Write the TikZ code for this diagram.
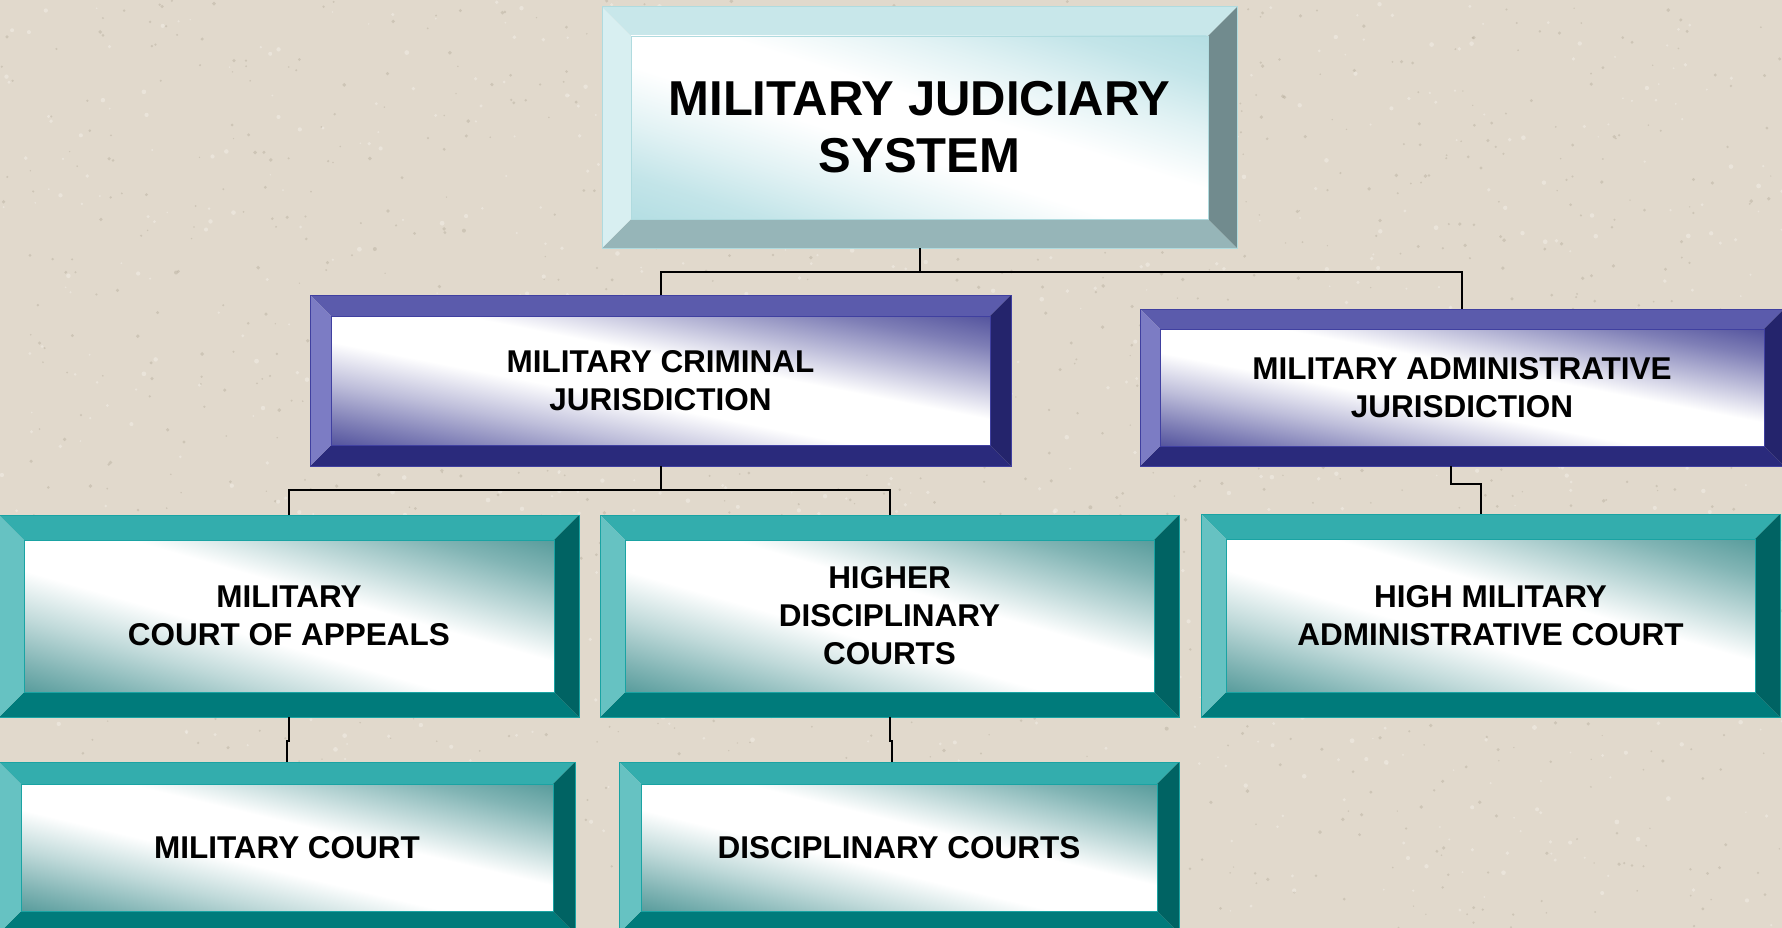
\documentclass[tikz,border=0pt]{standalone}
\usepackage{fontspec}
\setmainfont{Liberation Sans}
\usetikzlibrary{calc}
\definecolor{bgc}{RGB}{225,217,204}
\definecolor{bgd}{RGB}{170,160,142}
\definecolor{bgl}{RGB}{240,236,228}
% top box scheme
\definecolor{jaT}{RGB}{200,231,234}
\definecolor{jaL}{RGB}{216,239,241}
\definecolor{jaR}{RGB}{113,139,142}
\definecolor{jaB}{RGB}{150,181,184}
\definecolor{jaE}{RGB}{176,219,223}
\definecolor{jaC}{RGB}{180,222,227}
% blue scheme
\definecolor{blT}{RGB}{91,91,172}
\definecolor{blL}{RGB}{124,124,196}
\definecolor{blR}{RGB}{36,36,108}
\definecolor{blB}{RGB}{42,42,124}
\definecolor{blE}{RGB}{64,64,160}
\definecolor{blC}{RGB}{84,84,158}
% teal scheme
\definecolor{tlT}{RGB}{51,173,173}
\definecolor{tlL}{RGB}{102,194,194}
\definecolor{tlR}{RGB}{0,99,99}
\definecolor{tlB}{RGB}{0,123,123}
\definecolor{tlE}{RGB}{26,163,163}
\definecolor{tlC}{RGB}{88,156,156}
% visible range is 25bp (bottom-left corner) .. 75bp (top-right corner)
\pgfdeclarehorizontalshading{jaS}{100bp}{color(0bp)=(jaC); color(25bp)=(jaC); color(31bp)=(jaC!80!white); color(38bp)=(jaC!40!white); color(46bp)=(white); color(54bp)=(white); color(62bp)=(jaC!40!white); color(69bp)=(jaC!80!white); color(75bp)=(jaC); color(100bp)=(jaC)}
\pgfdeclarehorizontalshading{blS}{100bp}{color(0bp)=(blC); color(25bp)=(blC); color(30bp)=(blC!75!white); color(37bp)=(blC!38!white); color(45bp)=(white); color(55bp)=(white); color(62bp)=(blC!38!white); color(69bp)=(blC!75!white); color(75bp)=(blC); color(100bp)=(blC)}
\pgfdeclarehorizontalshading{tlS}{100bp}{color(0bp)=(tlC); color(25bp)=(tlC); color(30bp)=(tlC!75!white); color(37bp)=(tlC!38!white); color(45bp)=(white); color(55bp)=(white); color(62bp)=(tlC!38!white); color(69bp)=(tlC!75!white); color(75bp)=(tlC); color(100bp)=(tlC)}
\tikzset{
  boxtext/.style={inner sep=0pt, align=center, font=\bfseries\fontsize{31.5}{38}\selectfont},
  bigtext/.style={inner sep=0pt, align=center, font=\bfseries\fontsize{49}{57}\selectfont},
  conn/.style={draw=black, line width=2pt}
}
% #1 name, #2 x1, #3 y1, #4 x2, #5 y2, #6 bevel, #7 scheme, #8 text style, #9 text
\newcommand\bevbox[9]{%
  \fill[#7T] (#2,#3) -- (#4,#3) -- ({#4-#6},{#3+#6}) -- ({#2+#6},{#3+#6}) -- cycle;
  \fill[#7B] (#2,#5) -- (#4,#5) -- ({#4-#6},{#5-#6}) -- ({#2+#6},{#5-#6}) -- cycle;
  \fill[#7L] (#2,#3) -- ({#2+#6},{#3+#6}) -- ({#2+#6},{#5-#6}) -- (#2,#5) -- cycle;
  \fill[#7R] (#4,#3) -- ({#4-#6},{#3+#6}) -- ({#4-#6},{#5-#6}) -- (#4,#5) -- cycle;
  \pgfmathsetmacro\bxw{(#4-#2-2*#6)/100}%
  \pgfmathsetmacro\bxh{(#5-#3-2*#6)/100}%
  \pgfmathsetmacro\bxang{atan2(\bxw,\bxh)}%
  \pgfmathsetmacro\bxD{100*\bxw*\bxh/sqrt(\bxw*\bxw+\bxh*\bxh)}%
  \begin{scope}
    \clip ({#2+#6},{#3+#6}) rectangle ({#4-#6},{#5-#6});
    \shade[shading=#7S, transform canvas={shift={({(#2+#4)/2},{(#3+#5)/2})}, rotate=\bxang}] (-\bxD,-1500) rectangle (\bxD,1500);
  \end{scope}
  \draw[#7E, line width=0.8pt] ({#2+#6},{#3+#6}) rectangle ({#4-#6},{#5-#6});
  \draw[#7E, line width=1pt] (#2,#3) rectangle (#4,#5);
  \node[#8, minimum width={(#4-#2)*1pt}, minimum height={(#5-#3)*1pt}] (#1) at ({(#2+#4)/2},{(#3+#5)/2}) {#9};
}
\begin{document}
\begin{tikzpicture}[x=1pt,y=-1pt]
\useasboundingbox (0,0) rectangle (1782,928);
\clip (0,0) rectangle (1782,928);
\fill[bgc] (0,0) rectangle (1782,928);
\pgfmathsetseed{7}
\foreach \i in {1,...,1400}{
  \fill[bgd, opacity=0.35] ({rnd*1782},{rnd*928}) circle ({0.7+rnd*1.3});
}
\foreach \i in {1,...,900}{
  \fill[bgl, opacity=0.6] ({rnd*1782},{rnd*928}) circle ({0.8+rnd*1.6});
}

\bevbox{top}{602}{7}{1237}{248}{29}{ja}{bigtext}{MILITARY JUDICIARY\\SYSTEM}
\bevbox{crim}{310}{295}{1011}{466}{21}{bl}{boxtext}{MILITARY CRIMINAL\\JURISDICTION}
\bevbox{adm}{1140}{309}{1784}{466}{20}{bl}{boxtext}{MILITARY ADMINISTRATIVE\\JURISDICTION}
\bevbox{appeal}{-1}{515}{579}{717}{25}{tl}{boxtext}{MILITARY\\COURT OF APPEALS}
\bevbox{higher}{600}{515}{1179}{717}{25}{tl}{boxtext}{HIGHER\\DISCIPLINARY\\COURTS}
\bevbox{hadm}{1201}{514}{1780}{717}{25}{tl}{boxtext}{HIGH MILITARY\\ADMINISTRATIVE COURT}
\bevbox{mcourt}{-1}{762}{575}{933}{22}{tl}{boxtext}{MILITARY COURT}
\bevbox{dcourt}{619}{762}{1179}{933}{22}{tl}{boxtext}{DISCIPLINARY COURTS}

% connectors
\coordinate (j1) at ($(top.south)+(0,24)$);
\draw[conn] (top.south) -- (j1);
\draw[conn] (j1) -| (crim.north);
\draw[conn] (j1) -| (adm.north);
\coordinate (j2) at ($(crim.south)+(0,24)$);
\draw[conn] (crim.south) -- (j2);
\draw[conn] (j2) -| (appeal.north);
\draw[conn] (j2) -| (higher.north);
\coordinate (a1) at ($(adm.south)+(-11,0)$);
\coordinate (a2) at ($(a1)+(0,18)$);
\coordinate (a3) at ($(hadm.north)+(-10,0)$);
\draw[conn] (a1) -- (a2) -| (a3);
\coordinate (m1) at ($(appeal.south)+(0,24)$);
\draw[conn] (appeal.south) -- (m1) -| (mcourt.north);
\coordinate (d1) at ($(higher.south)+(0,24)$);
\coordinate (d2) at ($(dcourt.north)+(-7,0)$);
\draw[conn] (higher.south) -- (d1) -| (d2);
\end{tikzpicture}
\end{document}
